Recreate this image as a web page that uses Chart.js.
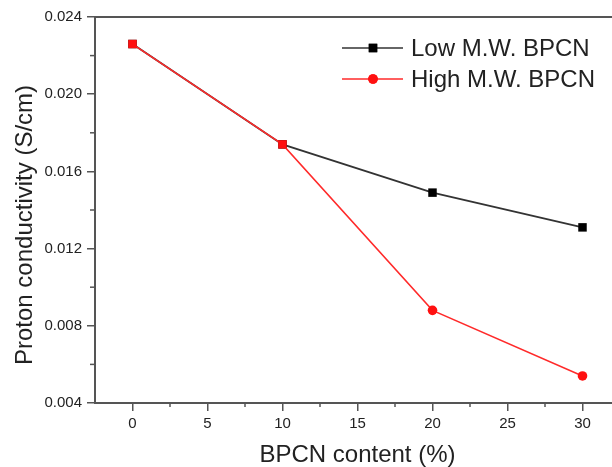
<!DOCTYPE html>
<html>
<head>
<meta charset="utf-8">
<script src="https://cdn.jsdelivr.net/npm/chart.js@4"></script>
<style>
    body { margin: 0; background: #fff; }
    #wrap { width: 612px; height: 467px; overflow: hidden; }
</style>
</head>
<body>
<div id="wrap"><canvas id="conductivityChart" width="626" height="467"></canvas></div>
<script>
// BPCN loading (%) and proton conductivity (S/cm) for the two membranes
var contentPct = [0, 10, 20, 30];
var lowMW = [0.0226, 0.0174, 0.0149, 0.0131];
var highMW = [0.0226, 0.0174, 0.0088, 0.0054];

var seriesLabels = ['Low M.W. BPCN', 'High M.W. BPCN'];
var xTickValues = [0, 5, 10, 15, 20, 25, 30];
var yTickValues = [0.004, 0.008, 0.012, 0.016, 0.020, 0.024];
var xTitle = 'BPCN content (%)';
var yTitle = 'Proton conductivity (S/cm)';

var axisColor = '#555';
var textColor = '#222';
var fontFamily = "'Liberation Sans', Arial, sans-serif";

Chart.defaults.font.family = fontFamily;
Chart.defaults.color = textColor;

function toPoints(xs, ys) {
    return xs.map(function(x, i) { return { x: x, y: ys[i] }; });
}

function fixedTicks(values) {
    return function(scale) {
        scale.ticks = values.map(function(v) { return { value: v }; });
    };
}

// top frame line, minor ticks halfway between the major ones, rotated y title
var frameAndMinor = {
    id: 'frameAndMinor',
    afterDraw: function(chart) {
        var ctx = chart.ctx, area = chart.chartArea;
        var xs = chart.scales.x, ys = chart.scales.y;
        ctx.save();
        ctx.strokeStyle = axisColor;
        ctx.lineWidth = 2;
        ctx.beginPath();
        ctx.moveTo(area.left - 1, area.top);
        ctx.lineTo(area.right, area.top);
        ctx.stroke();

        ctx.lineWidth = 1.5;
        for (var i = 0; i < yTickValues.length - 1; i++) {
            var py = ys.getPixelForValue((yTickValues[i] + yTickValues[i + 1]) / 2);
            ctx.beginPath();
            ctx.moveTo(area.left - 5, py);
            ctx.lineTo(area.left, py);
            ctx.stroke();
        }
        var step = xTickValues[1] - xTickValues[0];
        for (var j = 0; j < xTickValues.length; j++) {
            var px = xs.getPixelForValue(xTickValues[j] + step / 2);
            ctx.beginPath();
            ctx.moveTo(px, area.bottom);
            ctx.lineTo(px, area.bottom + 4);
            ctx.stroke();
        }

        ctx.fillStyle = textColor;
        ctx.font = '24px ' + fontFamily;
        ctx.textAlign = 'center';
        ctx.textBaseline = 'middle';
        ctx.translate(25, 225);
        ctx.rotate(-Math.PI / 2);
        ctx.fillText(yTitle, 0, 0);
        ctx.restore();
    }
};

// legend with a short line through the marker, like the plotted series
var lineLegend = {
    id: 'lineLegend',
    afterDraw: function(chart) {
        var ctx = chart.ctx;
        var rows = chart.data.datasets;
        ctx.save();
        rows.forEach(function(ds, i) {
            var y = 48 + i * 31;
            ctx.strokeStyle = ds.borderColor;
            ctx.lineWidth = 1.5;
            ctx.beginPath();
            ctx.moveTo(342, y);
            ctx.lineTo(403, y);
            ctx.stroke();
            ctx.fillStyle = ds.pointBackgroundColor;
            var style = Array.isArray(ds.pointStyle) ? ds.pointStyle[ds.pointStyle.length - 1] : ds.pointStyle;
            var r = Array.isArray(ds.pointRadius) ? ds.pointRadius[ds.pointRadius.length - 1] : ds.pointRadius;
            Chart.helpers.drawPoint(ctx, { pointStyle: style, radius: r, borderWidth: 0, rotation: 0 }, 373, y);
            ctx.fill();
            ctx.fillStyle = textColor;
            ctx.font = '24px ' + fontFamily;
            ctx.textBaseline = 'middle';
            ctx.fillText(ds.label, 411, y + 1);
        });
        ctx.restore();
    }
};

var ctx = document.getElementById('conductivityChart').getContext('2d');
var chart = new Chart(ctx, {
    type: 'line',
    data: {
        datasets: [
            {
                label: seriesLabels[0],
                data: toPoints(contentPct, lowMW),
                borderColor: '#333',
                backgroundColor: '#000',
                pointBackgroundColor: '#000',
                pointBorderWidth: 0,
                pointStyle: 'rect',
                pointRadius: 6,
                borderWidth: 1.8,
                order: 1
            },
            {
                label: seriesLabels[1],
                data: toPoints(contentPct, highMW),
                borderColor: '#ff2a2a',
                backgroundColor: '#ff1010',
                pointBackgroundColor: '#ff1010',
                pointBorderWidth: 0,
                pointStyle: ['rect', 'rect', 'circle', 'circle'],
                pointRadius: [6, 6, 4.8, 4.8],
                borderWidth: 1.5,
                order: 0
            }
        ]
    },
    options: {
        responsive: false,
        animation: false,
        devicePixelRatio: 1,
        layout: { padding: { top: 17, right: 6, left: 0, bottom: 0 } },
        plugins: {
            legend: { display: false },
            tooltip: { enabled: false }
        },
        elements: { line: { tension: 0 } },
        scales: {
            x: {
                type: 'linear',
                min: -2.5,
                max: 32.5,
                afterBuildTicks: fixedTicks(xTickValues),
                afterFit: function(scale) { scale.height = 64; },
                ticks: {
                    padding: 4,
                    font: { size: 15 },
                    color: textColor
                },
                grid: {
                    drawOnChartArea: false,
                    drawTicks: true,
                    tickLength: 8,
                    color: axisColor,
                    lineWidth: 1.5
                },
                border: { color: axisColor, width: 2 },
                title: {
                    display: true,
                    text: xTitle,
                    font: { size: 24, lineHeight: 1 },
                    padding: { top: 0, bottom: 0 },
                    color: textColor
                }
            },
            y: {
                min: 0.004,
                max: 0.024,
                afterBuildTicks: fixedTicks(yTickValues),
                afterFit: function(scale) { scale.width = 95; },
                ticks: {
                    padding: 5,
                    font: { size: 15 },
                    color: textColor,
                    callback: function(v) { return v.toFixed(3); }
                },
                grid: {
                    drawOnChartArea: false,
                    drawTicks: true,
                    tickLength: 8,
                    color: axisColor,
                    lineWidth: 1.5
                },
                border: { color: axisColor, width: 2 }
            }
        }
    },
    plugins: [frameAndMinor, lineLegend]
});
</script>
</body>
</html>
